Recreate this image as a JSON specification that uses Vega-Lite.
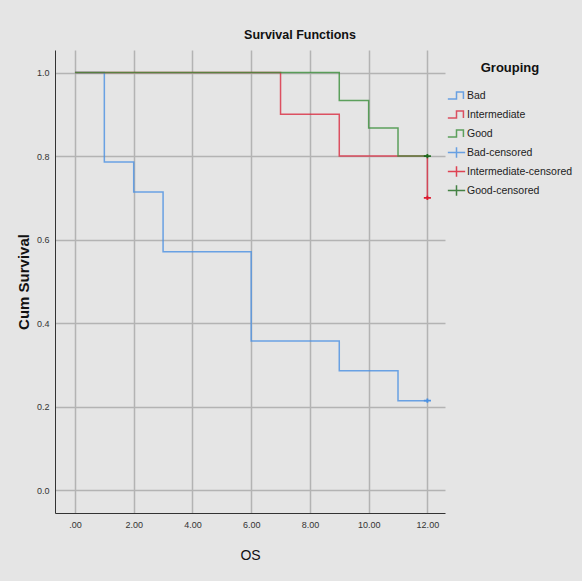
{
  "$schema": "https://vega.github.io/schema/vega-lite/v6.json",
  "autosize": {"type": "none"},
  "width": 390,
  "height": 463,
  "padding": {"left": 55, "top": 50, "right": 137, "bottom": 68},
  "background": "#e5e5e5",
  "title": {
    "text": "Survival Functions",
    "font": "Liberation Sans",
    "fontSize": 12.5,
    "fontWeight": "bold",
    "color": "#111111",
    "anchor": "middle",
    "dx": 50,
    "offset": 9
  },
  "datasets": {
    "curves": [
      {"group": "Bad", "time": 0, "survival": 1.0},
      {"group": "Bad", "time": 1, "survival": 0.786},
      {"group": "Bad", "time": 2, "survival": 0.714},
      {"group": "Bad", "time": 3, "survival": 0.571},
      {"group": "Bad", "time": 6, "survival": 0.357},
      {"group": "Bad", "time": 9, "survival": 0.286},
      {"group": "Bad", "time": 11, "survival": 0.214},
      {"group": "Bad", "time": 12, "survival": 0.214},
      {"group": "Intermediate", "time": 0, "survival": 1.0},
      {"group": "Intermediate", "time": 7, "survival": 0.9},
      {"group": "Intermediate", "time": 9, "survival": 0.8},
      {"group": "Intermediate", "time": 12, "survival": 0.7},
      {"group": "Good", "time": 0, "survival": 1.0},
      {"group": "Good", "time": 9, "survival": 0.933},
      {"group": "Good", "time": 10, "survival": 0.867},
      {"group": "Good", "time": 11, "survival": 0.8},
      {"group": "Good", "time": 12, "survival": 0.8}
    ],
    "censored": [
      {"group": "Bad-censored", "time": 12, "survival": 0.214},
      {"group": "Intermediate-censored", "time": 12, "survival": 0.7},
      {"group": "Good-censored", "time": 12, "survival": 0.8}
    ]
  },
  "config": {
    "view": {"stroke": null},
    "axis": {
      "labelFont": "Liberation Sans",
      "labelFontSize": 9,
      "labelColor": "#333333",
      "ticks": false,
      "domainColor": "#333333",
      "domainWidth": 1,
      "gridColor": "#b3b3b3",
      "gridWidth": 1.5,
      "titleColor": "#111111"
    }
  },
  "layer": [
    {
      "data": {"name": "curves"},
      "mark": {"type": "line", "interpolate": "step-after", "strokeWidth": 1.5, "opacity": 0.8},
      "encoding": {
        "x": {
          "field": "time", "type": "quantitative",
          "scale": {"domain": [-0.68, 12.6], "nice": false, "zero": false},
          "axis": {
            "title": "OS",
            "titleFont": "Liberation Sans",
            "titleFontSize": 14,
            "titleFontWeight": "normal",
            "titlePadding": 19,
            "values": [0, 2, 4, 6, 8, 10, 12],
            "labelExpr": "datum.value == 0 ? '.00' : format(datum.value, '.2f')",
            "labelPadding": 7
          }
        },
        "y": {
          "field": "survival", "type": "quantitative",
          "scale": {"domain": [-0.055, 1.054], "nice": false, "zero": false},
          "axis": {
            "title": "Cum Survival",
            "titleFont": "Liberation Sans",
            "titleFontSize": 15,
            "titleFontWeight": "bold",
            "titlePadding": 5,
            "values": [0, 0.2, 0.4, 0.6, 0.8, 1.0],
            "format": ".1f",
            "labelPadding": 6
          }
        },
        "color": {
          "field": "group", "type": "nominal",
          "scale": {
            "domain": ["Bad", "Intermediate", "Good", "Bad-censored", "Intermediate-censored", "Good-censored"],
            "range": ["#4a90e2", "#d92a40", "#3a8f3a", "#4a90e2", "#dd1a2e", "#1d6a1d"]
          },
          "legend": {
            "title": "Grouping",
            "orient": "none",
            "legendX": 392,
            "legendY": 12,
            "titleFont": "Liberation Sans",
            "titleFontSize": 13,
            "titleFontWeight": "bold",
            "titleColor": "#111111",
            "titleAnchor": "middle",
            "titlePadding": 11,
            "labelFont": "Liberation Sans",
            "labelFontSize": 10.5,
            "labelColor": "#222222",
            "labelOffset": 1,
            "rowPadding": 1,
            "gridAlign": "all",
            "symbolSize": 300,
            "symbolStrokeWidth": 1.5,
            "symbolFillColor": "transparent",
            "encode": {
              "symbols": {"update": {"fill": {"value": "transparent"}}},
              "title": {"enter": {"dx": {"value": -9}}, "update": {"dx": {"value": -9}}}
            }
          }
        }
      }
    },
    {
      "data": {"name": "censored"},
      "mark": {"type": "point", "filled": false, "strokeWidth": 1.8, "size": 50, "opacity": 1},
      "encoding": {
        "x": {"field": "time", "type": "quantitative"},
        "y": {"field": "survival", "type": "quantitative"},
        "color": {"field": "group", "type": "nominal"},
        "shape": {
          "field": "group", "type": "nominal",
          "scale": {
            "domain": ["Bad", "Intermediate", "Good", "Bad-censored", "Intermediate-censored", "Good-censored"],
            "range": [
              "M-1,0.4L0,0.4L0,-0.4L0.8,-0.4L0.8,0.4",
              "M-1,0.4L0,0.4L0,-0.4L0.8,-0.4L0.8,0.4",
              "M-1,0.4L0,0.4L0,-0.4L0.8,-0.4L0.8,0.4",
              "M-1,0L1,0M0,-0.6L0,0.6",
              "M-1,0L1,0M0,-0.6L0,0.6",
              "M-1,0L1,0M0,-0.6L0,0.6"
            ]
          }
        }
      }
    }
  ]
}
